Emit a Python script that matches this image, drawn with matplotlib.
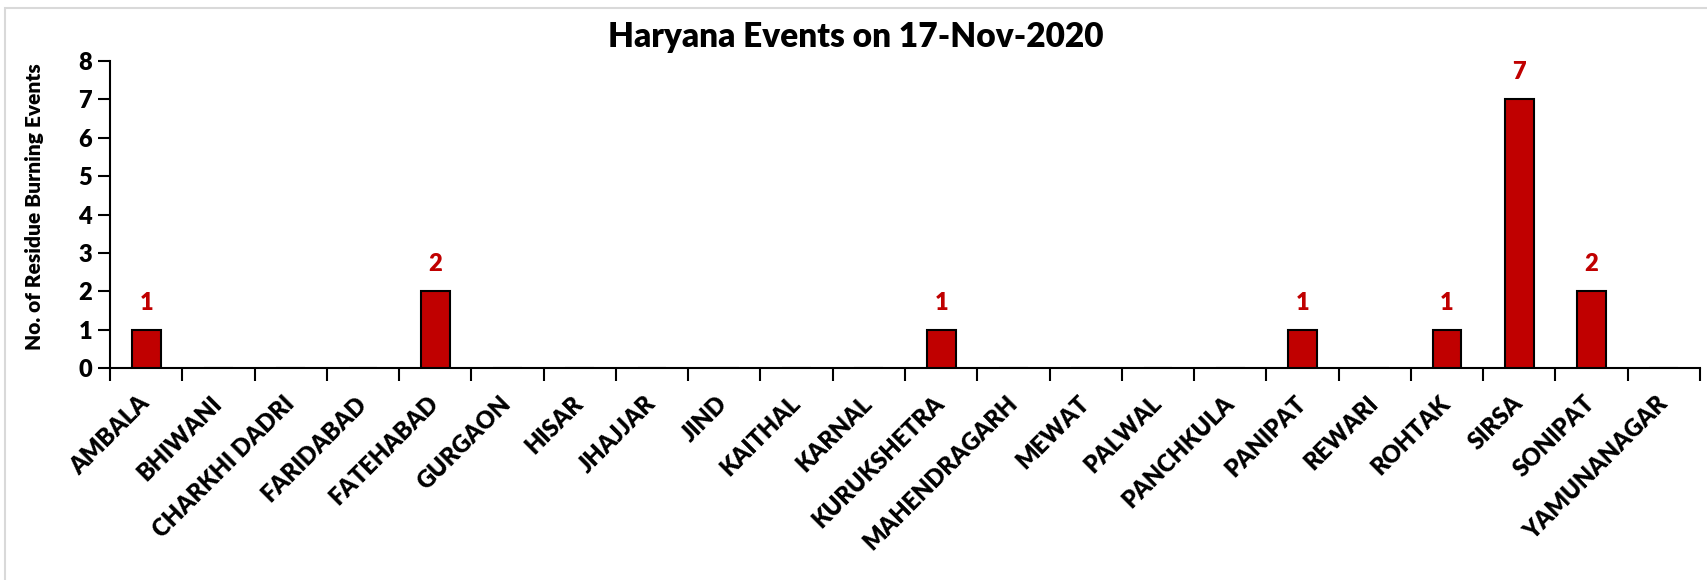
import matplotlib
matplotlib.use("Agg")
import matplotlib.pyplot as plt
import numpy as np
from matplotlib.patches import Rectangle

districts = ["AMBALA", "BHIWANI", "CHARKHI DADRI", "FARIDABAD", "FATEHABAD", "GURGAON",
             "HISAR", "JHAJJAR", "JIND", "KAITHAL", "KARNAL", "KURUKSHETRA",
             "MAHENDRAGARH", "MEWAT", "PALWAL", "PANCHKULA", "PANIPAT", "REWARI",
             "ROHTAK", "SIRSA", "SONIPAT", "YAMUNANAGAR"]
events = [1, 0, 0, 0, 2, 0, 0, 0, 0, 0, 0, 1, 0, 0, 0, 0, 1, 0, 1, 7, 2, 0]
y_ticks = [0, 1, 2, 3, 4, 5, 6, 7, 8]
title = "Haryana Events on 17-Nov-2020"
ylabel = "No. of Residue Burning Events"

plt.rcParams['font.family'] = ['Lato', 'DejaVu Sans']
W, H = 1708, 580
WEIGHT = 'heavy'
fig = plt.figure(figsize=(W / 100, H / 100), dpi=100)
fig.patch.set_facecolor('white')

# light frame
fig.add_artist(Rectangle((5 / W, -0.1), 1.2, 1 - 8 / H + 0.1, transform=fig.transFigure,
                         fill=False, edgecolor='#D9D9D9', linewidth=1.5))

ax = fig.add_axes([110 / W, 1 - 368 / H, (1700 - 110) / W, (368 - 61) / H])
x = np.arange(len(districts))
bars = ax.bar(x, events, width=0.4, color='#C00000', edgecolor='black', linewidth=1.5, zorder=3)

for xi, v in zip(x, events):
    if v > 0:
        ax.annotate(str(v), (xi, v), xytext=(0, 19.5), textcoords='offset points',
                    ha='center', va='center', color='#C00000', fontsize=17, fontweight=WEIGHT)

ax.set_xlim(-0.5, len(districts) - 0.5)
ax.set_ylim(0, 8)
ax.set_yticks(y_ticks)
ax.set_yticklabels([str(t) for t in y_ticks], fontsize=17, fontweight=WEIGHT)

ax.set_xticks(np.arange(-0.5, len(districts), 1))
ax.set_xticklabels([])
ax.set_xticks(x, minor=True)
ax.set_xticklabels(districts, minor=True, rotation=45, ha='right', va='center',
                   rotation_mode='anchor', fontsize=17, fontweight=WEIGHT)
ax.tick_params(axis='x', which='minor', length=0, pad=23)
ax.tick_params(axis='x', which='major', length=9, width=1.5, direction='out')
ax.tick_params(axis='y', length=9, width=1.5, direction='out', pad=4)

for s in ['top', 'right']:
    ax.spines[s].set_visible(False)
for s in ['left', 'bottom']:
    ax.spines[s].set_linewidth(1.5)

fig.text(856 / W, 1 - 47 / H, title, ha='center', va='baseline', fontsize=24, fontweight=WEIGHT)
fig.text(35 / W, 1 - 207 / H, ylabel, ha='center', va='center', rotation=90,
         fontsize=15, fontweight=WEIGHT)

fig.savefig('out.png', dpi=100)
